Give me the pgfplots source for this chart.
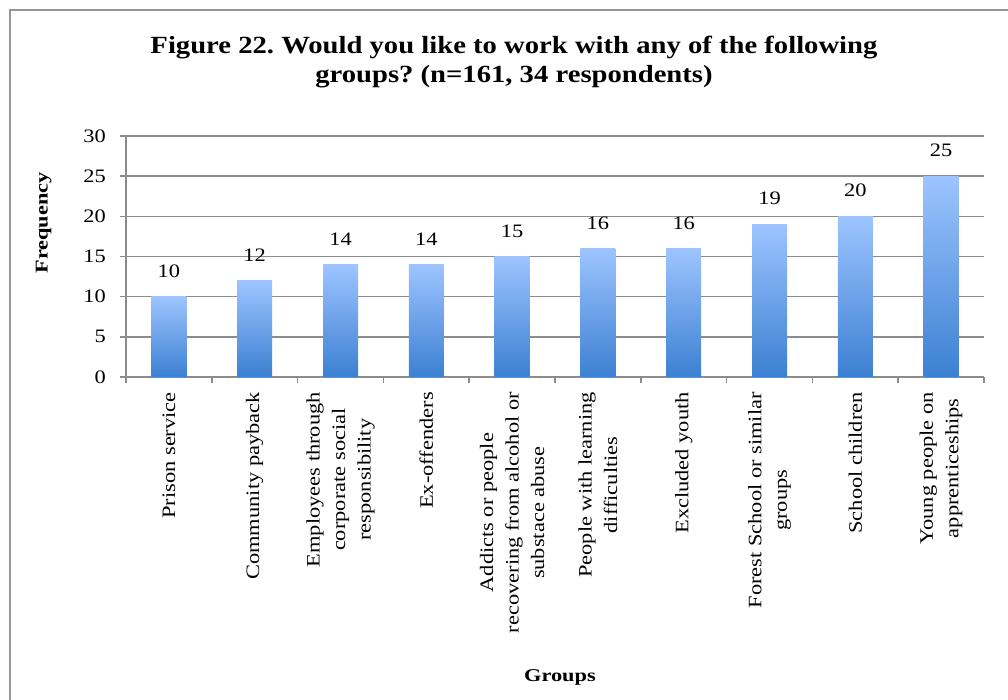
\documentclass[border=0pt]{standalone}
\usepackage{fontspec}
\setmainfont{Liberation Serif}[FakeStretch=1.18]
\newfontfamily\titlefont{Liberation Serif}[FakeStretch=1.16]
\newfontfamily\labelfont{Liberation Serif}[FakeStretch=1.24]
\usepackage{pgfplots}
\pgfplotsset{compat=1.18}
\definecolor{barTop}{RGB}{157,196,255}
\definecolor{barBot}{RGB}{60,128,210}
\definecolor{gridgray}{RGB}{140,140,140}
\definecolor{framegray}{RGB}{150,150,150}
\pgfplotsset{/pgf/number format/assume math mode=true,
  gbar/.style={ybar, bar shift=0pt, bar width=35pt, draw=none, top color=barTop, bottom color=barBot}}
\frenchspacing
\begin{document}
\begin{tikzpicture}
\useasboundingbox (0pt,0pt) rectangle (1008pt,700pt);
\clip (0pt,0pt) rectangle (1008pt,700pt);
\draw[framegray, line width=2pt] (10pt,690pt) rectangle (1040pt,-40pt);
\begin{axis}[
  at={(126pt,323pt)}, anchor=south west,
  width=858pt, height=241pt, scale only axis,
  xmin=-0.5, xmax=9.5, ymin=0, ymax=30,
  ytick={0,5,...,30},
  xtick={0,...,9},
  minor xtick={-0.5,0.5,...,9.5},
  xticklabels={
    {Prison service},
    {Community payback},
    {Employees through\\corporate social\\responsibility},
    {Ex-offenders},
    {Addicts or people\\recovering from alcohol or\\substace abuse},
    {People with learning\\difficulties},
    {Excluded youth},
    {Forest School or similar\\groups},
    {School children},
    {Young people on\\apprenticeships}},
  axis x line*=bottom, axis y line*=left,
  axis line style={draw=gridgray, line width=1.5pt},
  tick align=outside,
  major x tick style={draw=none},
  minor tick length=6pt, major tick length=6pt,
  every tick/.style={draw=gridgray, line width=1.5pt},
  ymajorgrids,
  major grid style={draw=gridgray, line width=1.5pt},
  tick label style={font=\fontsize{19}{25.5}\selectfont},
  yticklabel style={anchor=east, inner sep=0pt, xshift=-14pt},
  xticklabel style={yshift=-9pt, rotate=90, anchor=east, inner sep=0pt, align=center},
  ylabel={\textbf{Frequency}},
  ylabel style={at={(axis description cs:-0.096,0.639)}, anchor=center, font=\labelfont\fontsize{18}{22}\selectfont},
  xlabel={\textbf{Groups}},
  xlabel style={at={(axis description cs:0.5058,-1.245)}, anchor=center, font=\labelfont\fontsize{18}{22}\selectfont},
  title={Figure 22. Would you like to work with any of the following\\groups? (n=161, 34 respondents)},
  title style={at={(axis description cs:0.4522,1.283)}, anchor=center, align=center, font=\titlefont\bfseries\fontsize{24.7}{29.5}\selectfont},
  nodes near coords,
  nodes near coords style={font=\fontsize{19}{22}\selectfont, anchor=south, inner sep=0pt, yshift=19pt},
]
\addplot[gbar] coordinates {(0,10)};
\addplot[gbar] coordinates {(1,12)};
\addplot[gbar] coordinates {(2,14)};
\addplot[gbar] coordinates {(3,14)};
\addplot[gbar] coordinates {(4,15)};
\addplot[gbar] coordinates {(5,16)};
\addplot[gbar] coordinates {(6,16)};
\addplot[gbar] coordinates {(7,19)};
\addplot[gbar] coordinates {(8,20)};
\addplot[gbar] coordinates {(9,25)};
\end{axis}
\end{tikzpicture}
\end{document}
